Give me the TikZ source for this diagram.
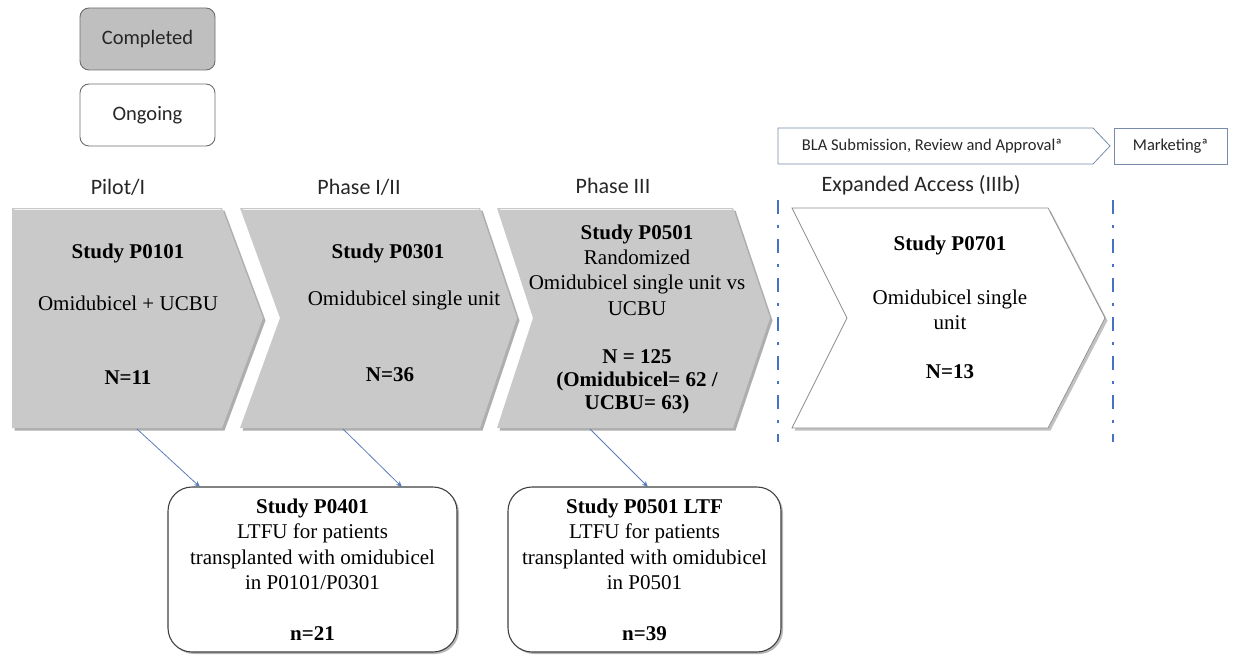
\documentclass[tikz,border=0pt]{standalone}
\usepackage{fontspec}
\setmainfont{Liberation Serif}
\newfontfamily\calib{Carlito}
\usetikzlibrary{arrows.meta,shadows,calc}
\definecolor{chevgray}{RGB}{201,201,201}
\definecolor{leggray}{RGB}{191,191,191}
\definecolor{legedge}{RGB}{110,110,110}
\definecolor{dashblue}{RGB}{68,114,196}
\definecolor{arrblue}{RGB}{90,125,185}
\definecolor{blaedge}{RGB}{120,140,170}
\begin{document}
\begin{tikzpicture}[x=1pt,y=-1pt,
  legendbox/.style={draw=legedge, line width=0.9pt, rounded corners=9pt, minimum width=135pt, minimum height=62pt, font=\calib\fontsize{20.5}{24}\selectfont, text=black!85},
  phaselabel/.style={font=\calib\fontsize{22}{26}\selectfont, text=black!85},
  chev/.style={fill=chevgray, drop shadow={shadow xshift=2.5pt, shadow yshift=-2.5pt, opacity=0.45, fill=black!70}},
  chevw/.style={fill=white, draw=black!45, line width=0.7pt, drop shadow={shadow xshift=2.5pt, shadow yshift=-2.5pt, opacity=0.35, fill=black!70}},
  bevel/.style={draw=white!75!chevgray, line width=1.6pt},
  tx/.style={font=\fontsize{21}{25.3}\selectfont, align=center, inner sep=0pt},
  txb/.style={tx, font=\fontsize{21}{25.3}\selectfont\bfseries},
  ltfu/.style={draw=black!75, line width=1.1pt, rounded corners=24pt, minimum width=289pt, minimum height=165pt, fill=white, align=center, font=\fontsize{21}{25.5}\selectfont, drop shadow={shadow xshift=2pt, shadow yshift=-2pt, opacity=0.4, fill=black!70}},
  bla/.style={draw=blaedge, line width=0.8pt, fill=white},
  blatext/.style={font=\calib\fontsize{16.5}{20}\selectfont, text=black!85},
  phasesep/.style={draw=dashblue, line width=2.6pt, dash pattern=on 14pt off 11pt on 3pt off 11pt},
  conn/.style={draw=arrblue, line width=0.8pt, -{Stealth[length=6pt,width=5pt]}}
]
\useasboundingbox (0,0) rectangle (1233,655);

% legend
\node[legendbox, fill=leggray] (completed) at (147.5,39) {Completed};
\node[legendbox, fill=white] (ongoing) at (147.5,115) {Ongoing};

% BLA and Marketing
\path[bla] (778,128) -- (1093,128) -- (1110,146) -- (1093,164) -- (778,164) -- cycle;
\node[blatext] (bla) at (932,146) {BLA Submission, Review and Approvalª};
\draw[bla] (1114,128) rectangle (1227,164);
\node[blatext] (mkt) at (1170.5,146) {Marketingª};

% phase labels
\node[phaselabel] (lpilot) at (118,187) {Pilot/I};
\node[phaselabel] (lph12) at (359,187) {Phase I/II};
\node[phaselabel] (lph3) at (613,186) {Phase III};
\node[phaselabel] (lexp) at (921,185) {Expanded Access (IIIb)};

% chevrons
\path[chev] (12,208) -- (222,208) -- (263,318) -- (222,428) -- (12,428) -- cycle;
\draw[bevel] (14,209.5) -- (221,209.5);
\path[chev] (240,208) -- (480,208) -- (517,318) -- (480,428) -- (240,428) -- (280,318) -- cycle;
\draw[bevel] (243,209.5) -- (479,209.5);
\path[chev] (497,208) -- (733,208) -- (770,318) -- (733,428) -- (497,428) -- (533,318) -- cycle;
\draw[bevel] (500,209.5) -- (732,209.5);
\path[chevw] (792,208) -- (1048,208) -- (1105,318) -- (1048,428) -- (792,428) -- (847,318) -- cycle;

% separators
\coordinate (s1t) at (778,200);
\coordinate (s1b) at (778,442);
\coordinate (s2t) at (1113,200);
\coordinate (s2b) at (1113,442);
\draw[phasesep] (s1t) -- (s1b);
\draw[phasesep] (s2t) -- (s2b);

% chevron texts
\node[txb] (s0101) at (128,253) {Study P0101};
\node[tx] (d0101) at (128,303) {Omidubicel + UCBU};
\node[txb] (n0101) at (128,378) {N=11};

\node[txb] (s0301) at (388,253) {Study P0301};
\node[tx] (d0301) at (404,300) {Omidubicel single unit};
\node[txb] (n0301) at (390,375) {N=36};

\node[tx] (s0501) at (637,270) {\textbf{Study P0501}\\Randomized\\Omidubicel single unit vs\\UCBU};
\node[txb, font=\fontsize{21}{23}\selectfont\bfseries] (n0501) at (637,382) {N = 125\\(Omidubicel= 62 /\\UCBU= 63)};

\node[txb] (s0701) at (950,245) {Study P0701};
\node[tx] (d0701) at (950,309.5) {Omidubicel single\\unit};
\node[txb] (n0701) at (950,372) {N=13};

% LTFU boxes
\node[ltfu] (p0401) at (312.5,569.5) {\textbf{Study P0401}\\LTFU for patients\\transplanted with omidubicel\\in P0101/P0301\\[25pt]\textbf{n=21}};
\node[ltfu, minimum width=273pt] (p0501l) at (644.5,569.5) {\textbf{Study P0501 LTF}\\LTFU for patients\\transplanted with omidubicel\\in P0501\\[25pt]\textbf{n=39}};

% connectors
\coordinate (c1) at (137,429);
\coordinate (c2) at (343,429);
\coordinate (c3) at (590,429);
\coordinate (t1) at (200,487);
\coordinate (t2) at (402,487);
\coordinate (t3) at (648,487);
\draw[conn] (c1) -- (t1);
\draw[conn] (c2) -- (t2);
\draw[conn] (c3) -- (t3);
\end{tikzpicture}
\end{document}
